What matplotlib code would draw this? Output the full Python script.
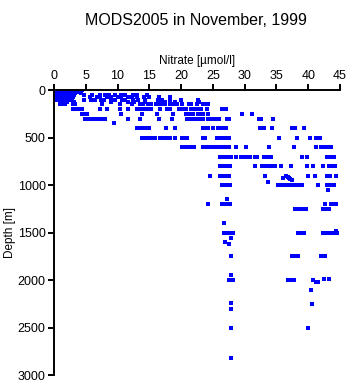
import matplotlib
matplotlib.use("Agg")
import matplotlib.pyplot as plt
import numpy as np

plt.rcParams["font.family"] = ["Liberation Sans", "DejaVu Sans"]

title = "MODS2005 in November, 1999"
x_label = "Nitrate [\u00b5mol/l]"
y_label = "Depth [m]"
x_ticks = [0, 5, 10, 15, 20, 25, 30, 35, 40, 45]
y_ticks = [0, 500, 1000, 1500, 2000, 2500, 3000]

# sampling depths [m] and the nitrate values observed at each of them
depth_levels = [
    0, 10, 20, 30, 50, 75, 100, 125, 150, 200, 250, 300, 345, 400, 500,
    600, 700, 800, 900, 915, 925, 935, 950, 970, 1000, 1050, 1150, 1200,
    1250, 1400, 1480, 1500, 1560, 1600, 1625, 1750, 1950, 1985, 2000,
    2020, 2100, 2240, 2250, 2310, 2510, 2825,
]
nitrate_at_level = [
    [0.0, 0.3, 0.6, 0.9, 1.2, 1.5, 1.8, 2.1, 2.4, 2.7, 3.0, 3.3, 3.6, 4.0, 4.4],
    [0.1, 0.4, 0.7, 1.0, 1.3, 1.6, 1.9, 2.2, 2.5, 2.8, 3.1, 3.4, 3.8, 4.2],
    [0.0, 0.3, 0.6, 0.9, 1.2, 1.5, 1.8, 2.1, 2.4, 2.8, 3.2, 3.6],
    [0.0, 0.3, 0.6, 0.9, 1.2, 1.5, 1.8, 2.1, 2.5, 2.9, 3.3, 4.3],
    [0.0, 0.3, 0.6, 0.9, 1.2, 1.5, 1.9, 2.3, 2.7, 3.1, 4.8, 6.0,
     7.2, 8.1, 8.6, 9.6, 10.6, 11.2, 12.4, 13.1, 14.6],
    [0.2, 0.5, 0.8, 1.1, 1.4, 1.8, 2.2, 2.6, 3.0, 5.6, 6.8, 7.3,
     8.4, 8.9, 10.0, 10.5, 11.7, 12.3, 13.0, 14.1, 15.0,
     16.6, 18.3],
    [0.4, 0.8, 1.2, 1.6, 2.0, 2.4, 2.8, 4.8, 5.9, 6.4, 7.4, 7.9,
     9.0, 9.6, 10.7, 11.2, 12.5, 13.3, 14.4, 16.3,
     17.0, 18.2, 20.0, 22.6],
    [1.0, 1.5, 2.0, 3.1, 7.5, 9.0, 11.6, 12.6, 14.4, 17.5, 19.0,
     22.8],
    [0.9, 1.3, 1.7, 3.0, 3.3, 7.5, 10.4, 12.3, 13.6, 14.0, 14.8,
     15.2, 16.0, 16.4, 16.8, 17.5, 18.3, 18.7, 19.4, 20.2,
     21.2, 21.6, 22.5, 23.4, 23.8, 24.2],
    [3.0, 3.3, 3.7, 4.0, 4.4, 7.3, 8.3, 10.4, 11.7, 13.1, 13.5,
     14.1, 14.6, 15.2, 16.7, 17.8, 18.3, 19.6, 20.2, 20.7, 21.5, 22.0,
     22.3, 22.7, 23.1, 24.1, 26.4, 27.1],
    [4.4, 4.8, 5.2, 10.5, 13.8, 16.2, 18.8, 20.7, 21.1, 21.5, 21.9,
     22.7, 23.0, 23.4, 24.2, 29.6, 31.2],
    [4.9, 5.3, 5.7, 6.1, 6.5, 6.9, 7.3, 7.7, 8.1, 11.7, 13.6, 16.5, 18.6,
     21.0, 21.4, 21.8, 22.2, 22.6, 23.0, 23.4, 24.2, 24.6, 25.0, 25.4,
     25.9, 27.2, 27.6, 32.2, 32.6, 34.4],
    [9.4],
    [13.0, 13.4, 13.8, 14.3, 14.9, 17.7, 19.0, 23.5, 23.9, 24.3, 25.0,
     25.8, 26.2, 26.6, 27.0, 32.4, 33.0, 34.3, 37.5, 37.9, 39.3],
    [13.8, 14.2, 14.6, 15.0, 15.4, 15.9, 16.7, 17.1, 17.5, 17.9, 18.3,
     19.1, 20.2, 20.6, 21.0, 23.4, 23.8, 25.7, 26.1, 26.5, 26.9, 27.5,
     35.4, 38.2, 40.3, 41.3, 41.9],
    [20.2, 20.6, 21.0, 21.6, 22.0, 23.5, 23.9, 24.3, 24.7, 25.1, 25.7, 26.1,
     26.5, 26.9, 27.2, 27.5, 28.7, 30.2, 33.8, 37.8, 41.2, 42.0, 42.6,
     43.0, 43.6],
    [26.1, 26.5, 26.9, 27.3, 27.6, 27.9, 28.6, 29.4, 29.6, 30.0, 30.4,
     30.8, 31.6, 32.0, 33.0, 33.5, 34.1, 39.1, 39.8, 43.0, 43.5, 44.0],
    [26.1, 26.5, 26.9, 27.3, 27.7, 31.7, 32.8, 33.2, 33.6, 34.0, 34.4,
     34.8, 35.7, 37.3, 39.8, 40.7, 42.3, 43.3, 43.8, 44.2],
    [24.6, 26.1, 26.5, 26.9, 27.3, 27.6, 33.2, 36.5, 39.9, 41.0, 42.9, 43.4,
     44.4],
    [36.8],
    [36.1, 37.0],
    [37.2],
    [37.4],
    [33.7],
    [26.4, 26.8, 27.2, 27.7, 35.3, 35.7, 36.1, 36.5, 37.0, 37.5, 37.9, 38.3,
     38.7, 39.0, 41.5, 43.0, 43.5, 44.1],
    [43.1],
    [27.2],
    [24.3, 26.5, 26.9, 27.3, 27.7, 42.6, 43.6, 44.0, 44.4],
    [38.0, 38.4, 38.8, 39.2, 39.6, 42.4, 42.8, 43.3],
    [26.7],
    [44.3],
    [26.7, 27.1, 27.5, 27.9, 28.2, 38.4, 38.8, 39.3, 42.3, 42.7, 43.1, 43.5,
     43.9, 44.6],
    [27.8],
    [26.9],
    [27.6],
    [27.9, 37.4, 37.8, 38.1, 38.4, 42.0, 42.7],
    [27.8],
    [42.5, 43.2],
    [27.5, 27.9, 28.2, 36.8, 37.1, 37.4, 37.7, 40.8],
    [41.2, 41.6],
    [40.4],
    [27.8],
    [40.6],
    [27.8],
    [27.9, 39.9],
    [27.8],
]

depth = np.concatenate([[d] * len(v) for d, v in zip(depth_levels, nitrate_at_level)])
nitrate = np.concatenate(nitrate_at_level)

fig = plt.figure(figsize=(3.48, 3.84), dpi=100)
ax = fig.add_axes([0.155, 0.0234, 0.822, 0.7422])

ax.plot(nitrate, depth, linestyle="none", marker="s", markersize=2.2,
        markeredgewidth=0, color="#0000ff")

ax.set_xlim(0, 45)
ax.set_ylim(3000, 0)
ax.set_xticks(x_ticks)
ax.set_yticks(y_ticks)
ax.xaxis.tick_top()
ax.xaxis.set_label_position("top")
ax.set_xlabel(x_label, fontsize=8.5, labelpad=4)
ax.set_ylabel(y_label, fontsize=8.5, va="center")
ax.yaxis.set_label_coords(-0.155, 0.5)
ax.tick_params(labelsize=9, width=1.4, length=4, pad=2)

for side in ("right", "bottom"):
    ax.spines[side].set_visible(False)
for side in ("left", "top"):
    ax.spines[side].set_linewidth(1.4)

fig.text(0.563, 0.946, title, ha="center", va="center", fontsize=11.5)

fig.savefig("out.png", dpi=100)
plt.close(fig)
